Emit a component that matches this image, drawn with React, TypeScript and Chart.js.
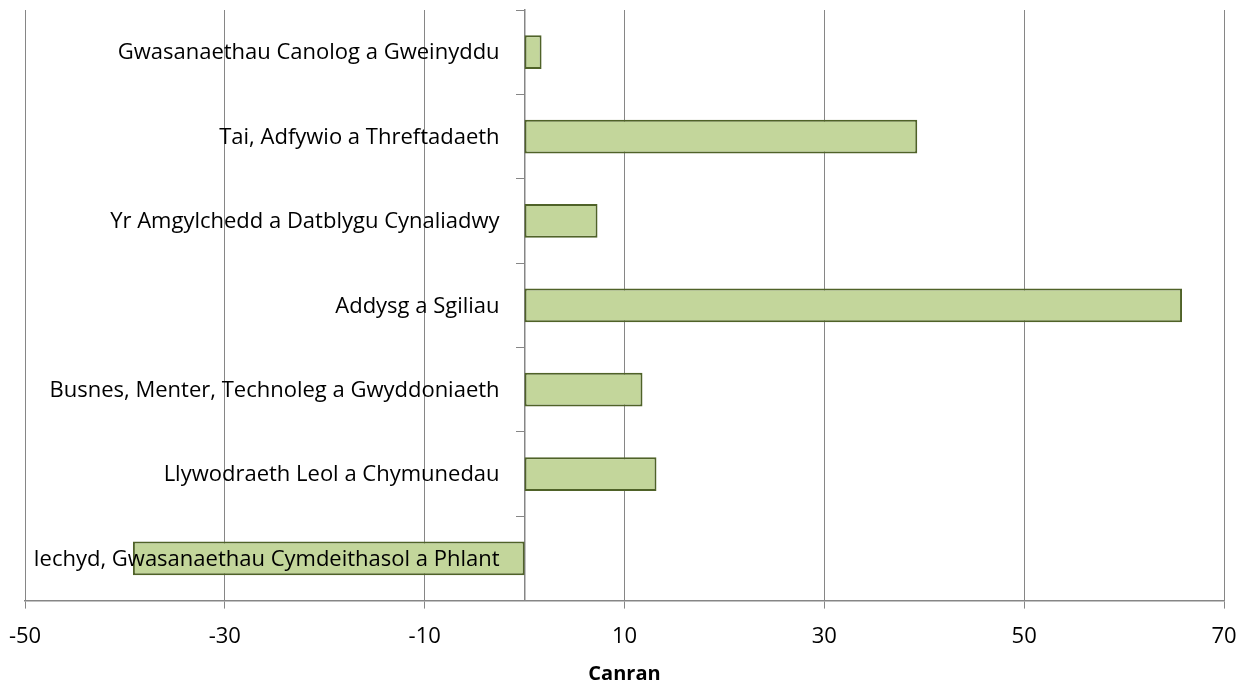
import { useEffect, useRef } from "react";
import { Chart, registerables } from "chart.js";

Chart.register(...registerables);

const categories = [
  "Gwasanaethau Canolog a Gweinyddu",
  "Tai, Adfywio a Threftadaeth",
  "Yr Amgylchedd a Datblygu Cynaliadwy",
  "Addysg a Sgiliau",
  "Busnes, Menter, Technoleg a Gwyddoniaeth",
  "Llywodraeth Leol a Chymunedau",
  "Iechyd, Gwasanaethau Cymdeithasol a Phlant",
];
const values = [1.7, 39.3, 7.3, 65.8, 11.8, 13.2, -39.2];
const xTicks = [-50, -30, -10, 10, 30, 50, 70];
const axisTitle = "Canran";

const FONT = "'Open Sans', Lato, sans-serif";
const GRID = "#868686";
const FONT_SIZE = 22;

const categoryLabels = {
  id: "categoryLabels",
  afterDatasetsDraw(chart: any) {
    const { ctx, scales } = chart;
    const xs = scales.x;
    const ys = scales.y;
    const x0 = xs.getPixelForValue(0) - 25;
    ctx.save();
    ctx.font = `${FONT_SIZE}px ${FONT}`;
    ctx.fillStyle = "#000";
    ctx.textAlign = "right";
    ctx.textBaseline = "middle";
    categories.forEach((label, i) => {
      ctx.fillText(label, x0, ys.getPixelForValue(i) + 1);
    });
    ctx.restore();
  },
};

export default function App() {
  const ref = useRef<HTMLCanvasElement>(null);
  useEffect(() => {
    const chart = new Chart(ref.current!, {
      type: "bar",
      data: {
        labels: categories,
        datasets: [
          {
            data: values,
            backgroundColor: "#c3d69b",
            borderColor: "#4f6228",
            borderWidth: 2,
            borderSkipped: false,
            barPercentage: 0.8,
            categoryPercentage: 0.5,
          },
        ],
      },
      options: {
        indexAxis: "y",
        responsive: false,
        animation: false,
        layout: { padding: { left: 25, right: 24, top: 10, bottom: -1 } },
        plugins: { legend: { display: false }, tooltip: { enabled: false } },
        scales: {
          x: {
            min: -50,
            max: 70,
            afterBuildTicks: (s: any) => {
              s.ticks = xTicks.map((v) => ({ value: v }));
            },
            afterFit: (s: any) => {
              s.paddingLeft = 0;
              s.paddingRight = 0;
            },
            grid: { color: GRID, tickLength: 8, lineWidth: 1 },
            border: { color: GRID, width: 1.5 },
            ticks: { font: { family: FONT, size: FONT_SIZE }, color: "#000", padding: 15, maxRotation: 0 },
            title: {
              display: true,
              text: axisTitle,
              font: { family: FONT, size: 20, weight: "bold" },
              color: "#000",
              padding: { top: -3, bottom: 0 },
            },
          },
          y: {
            position: { x: 0 } as any,
            grid: { offset: true, drawOnChartArea: false, tickLength: 8, color: GRID },
            border: { color: GRID, width: 1.5 },
            ticks: { display: false },
          },
        },
      },
      plugins: [categoryLabels],
    } as any);
    return () => chart.destroy();
  }, []);
  return (
    <canvas
      ref={ref}
      width={1248}
      height={685}
      style={{ position: "absolute", left: 0, top: 0, display: "block" }}
    />
  );
}
